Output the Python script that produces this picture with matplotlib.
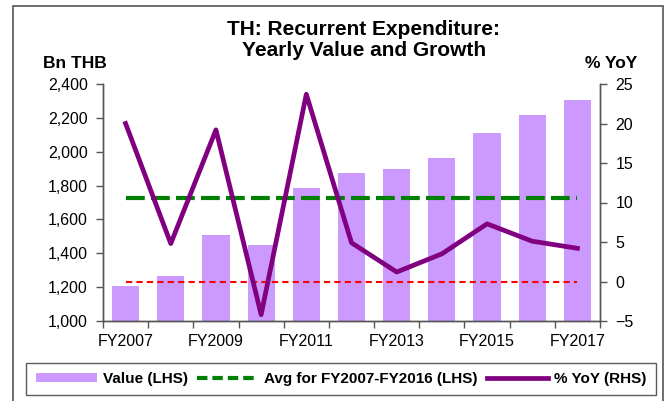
import matplotlib
matplotlib.use("Agg")
import matplotlib.pyplot as plt
from matplotlib.patches import Rectangle, Patch
from matplotlib.lines import Line2D
from matplotlib.ticker import FuncFormatter

plt.rcParams["font.family"] = ["Liberation Sans", "DejaVu Sans"]

years = ["FY2007", "FY2008", "FY2009", "FY2010", "FY2011", "FY2012",
         "FY2013", "FY2014", "FY2015", "FY2016", "FY2017"]
value_bn = [1205, 1264, 1507, 1446, 1787, 1874, 1895, 1962, 2108, 2217, 2307]
yoy_pct = [20.0, 4.8, 19.2, -4.2, 23.7, 4.9, 1.2, 3.5, 7.3, 5.1, 4.2]

x = list(range(len(years)))
avg_val = sum(value_bn[:10]) / 10

fig = plt.figure(figsize=(6.67, 4.01), dpi=100)
ax = fig.add_axes([103 / 667, 1 - 321 / 401, 497 / 667, 237 / 401])
ax2 = ax.twinx()

ax.bar(x, value_bn, width=0.6, color="#CC99FF", zorder=2)
ax.plot([x[0], x[-1]], [avg_val, avg_val], color="#008000", lw=3,
        dashes=(4.5, 1.5), zorder=3)
ax2.plot([x[0], x[-1]], [0, 0], color="red", lw=1.5, dashes=(3, 2))
ax2.plot(x, yoy_pct, color="#800080", lw=3.4)

ax.set_xlim(-0.5, len(years) - 0.5)
ax.set_ylim(1000, 2400)
ax.set_yticks(range(1000, 2401, 200))
ax.yaxis.set_major_formatter(FuncFormatter(lambda v, p: f"{int(v):,}"))
ax2.set_ylim(-5, 25)
ax2.set_yticks(range(-5, 26, 5))

ax.set_xticks([i - 0.5 for i in range(len(years) + 1)])
ax.set_xticklabels([])
ax.set_xticks(x[::2], minor=True)
ax.set_xticklabels(years[::2], minor=True)
ax.tick_params(axis="x", which="major", length=5, width=1, color="#555555")
ax.tick_params(axis="x", which="minor", length=0, pad=9, labelsize=11.5)
ax.tick_params(axis="y", length=5, width=1, color="#555555", pad=6, labelsize=11.5)
ax2.tick_params(axis="y", length=5, width=1, color="#555555", pad=6, labelsize=11.5)

for a in (ax, ax2):
    a.spines["top"].set_visible(False)
    for s in ("left", "right", "bottom"):
        a.spines[s].set_color("#555555")
        a.spines[s].set_linewidth(1)

fig.text(364 / 667, 1 - 40 / 401, "TH: Recurrent Expenditure:\nYearly Value and Growth",
         ha="center", va="center", fontsize=15, fontweight="bold", linespacing=1.1)
fig.text(75 / 667, 1 - 63 / 401, "Bn THB", ha="center", va="center",
         fontsize=12.5, fontweight="bold")
fig.text(611 / 667, 1 - 63 / 401, "% YoY", ha="center", va="center",
         fontsize=12.5, fontweight="bold")

handles = [Patch(facecolor="#CC99FF", edgecolor="none"),
           Line2D([], [], color="#008000", lw=3, dashes=(2.5, 1.2)),
           Line2D([], [], color="#800080", lw=3.4)]
labels = ["Value (LHS)", "Avg for FY2007-FY2016 (LHS)", "% YoY (RHS)"]
leg = fig.legend(handles, labels, ncol=3, loc="center",
                 bbox_to_anchor=(341 / 667, 1 - 379 / 401),
                 prop={"weight": "bold", "size": 11},
                 handlelength=4.0, handleheight=0.5, handletextpad=0.4,
                 columnspacing=0.6, fancybox=False, borderpad=0.6)
leg.get_frame().set_edgecolor("#333333")
leg.get_frame().set_linewidth(1)

fig.patches.append(Rectangle((12.7 / 667, -0.05), (663 - 12.7) / 667, 1.05 - 6 / 401,
                             transform=fig.transFigure, fill=False,
                             edgecolor="#555555", lw=1.2))

fig.savefig("out.png", dpi=100)
